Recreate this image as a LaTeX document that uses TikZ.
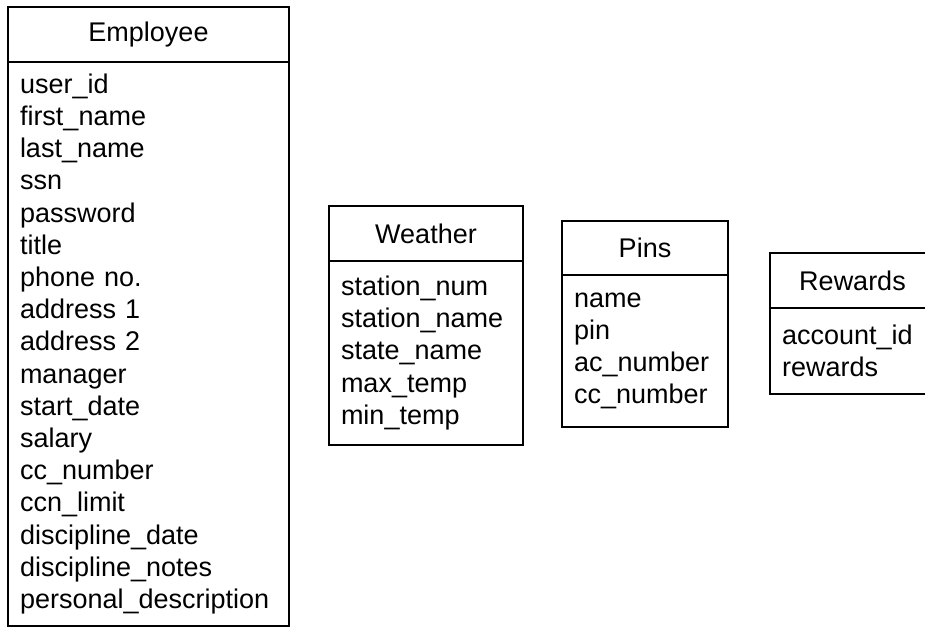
\documentclass[tikz,border=0pt]{standalone}
\usepackage{fontspec}
\setmainfont{Liberation Sans}
\usepackage{tikz}

\begin{document}
\begin{tikzpicture}[x=0.5pt, y=-0.5pt, align=center, line width=1pt,
  font=\fontsize{13.5}{16.1}\selectfont]
\tikzstyle{hd} = [draw=black, anchor=north west, inner sep=0pt, outer sep=0pt, minimum height=27.5pt]
\tikzstyle{bd} = [draw=black, anchor=north, align=left, inner xsep=6pt, inner ysep=0pt, outer sep=0pt]

\useasboundingbox (0,0) rectangle (925,635);

\node[hd, minimum width=140.5pt](E) at (8, 7) {Employee};
\node[bd, text width=128.5pt, minimum height=282pt](E1) at (E.south) {user\_id\\first\_name\\last\_name\\ssn\\password\\title\\phone no.\\address 1\\address 2\\manager\\start\_date\\salary\\cc\_number\\ccn\_limit\\discipline\_date\\discipline\_notes\\personal\_description};

\node[hd, minimum width=97pt](W) at (329, 206) {Weather};
\node[bd, text width=85pt, minimum height=92pt](W1) at (W.south) {station\_num\\station\_name\\state\_name\\max\_temp\\min\_temp};

\node[hd, minimum width=83pt, minimum height=27pt](P) at (562, 221) {Pins};
\node[bd, text width=71pt, minimum height=76pt](P1) at (P.south) {name\\pin\\ac\_number\\cc\_number};

\node[hd, minimum width=82.5pt](R) at (770, 253) {Rewards};
\node[bd, text width=70.5pt, minimum height=43pt](R1) at (R.south) {account\_id\\rewards};
\end{tikzpicture}
\end{document}
